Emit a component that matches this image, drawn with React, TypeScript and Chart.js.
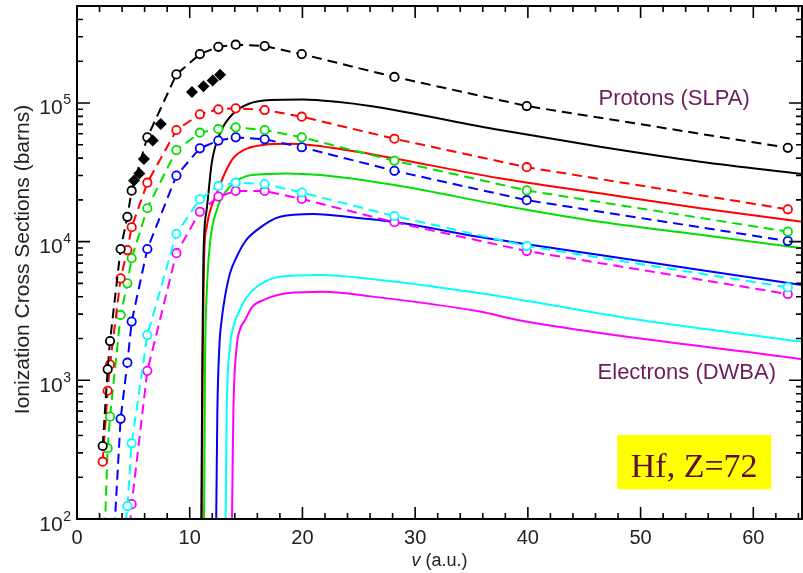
import React, { useEffect, useRef } from "react";
import { Chart, registerables } from "chart.js";

Chart.register(...registerables);

// ---- axes ----
const X_MIN = 0;
const X_MAX = 64.32;
const Y_MIN = 100;
const Y_MAX = 5e5;
const X_TICKS = [0, 10, 20, 30, 40, 50, 60];
const Y_EXPONENTS = [2, 3, 4, 5];

// ---- protons (SLPA), dashed with open circles ----
const V_PROTON = [2.28, 2.72, 2.93, 3.87, 4.47, 4.85, 6.24, 8.82, 10.9, 12.54, 14.08, 16.65, 19.94, 28.16, 39.9, 63.06];
const P_BLACK = [336, 1200, 1920, 8850, 15100, 23300, 56500, 160600, 225000, 254000, 263000, 257000, 225000, 154000, 95000, 47500];
const P_RED = [259, 841, 1300, 5430, 8690, 12700, 26600, 63800, 82800, 89900, 91400, 88900, 79600, 55200, 34400, 17100];
const P_GREEN = [30, 324, 547, 2960, 5000, 7590, 17400, 45700, 61000, 64900, 66700, 63800, 56500, 38300, 23400, 11800];
const P_BLUE = [null, null, 23, 528, 1340, 2650, 8850, 29900, 47100, 53500, 56500, 54700, 47900, 32400, 19900, 10100];
const P_CYAN = [null, null, null, 43, 124, 351, 2120, 11400, 20200, 25200, 26600, 26000, 22600, 15300, 9290, 4680];
const P_MAGENTA = [null, null, null, null, 53, 128, 1170, 8250, 16400, 21100, 23200, 23200, 20300, 13800, 8550, 4190];

// ---- experimental (filled diamonds) ----
const EXP_V = [5.06, 5.53, 5.94, 6.72, 7.43, 10.2, 11.22, 12.04, 12.69];
const EXP_S = [27600, 31000, 39400, 53500, 70500, 120000, 132000, 145000, 160000];

// ---- electrons (DWBA), solid ----
const E_BLACK_V = [10.98, 11.03, 11.12, 11.21, 11.5, 11.6, 11.95, 12.69, 13.87, 15.35, 17.13, 20.08, 23.04, 26.0, 37.53, 46.4, 55.28, 64.32];
const E_BLACK_S = [60, 100, 1400, 7360, 16900, 19950, 36700, 60400, 84100, 99300, 105000, 106000, 102000, 95000, 63800, 48300, 37700, 30700];
const E_RED_V = [11.0, 11.07, 11.15, 11.27, 11.51, 12.4, 13.73, 14.76, 16.53, 18.61, 20.67, 26.0, 37.5, 46.4, 55.3, 64.32];
const E_RED_S = [60, 100, 1400, 7360, 12800, 22300, 38700, 45700, 49800, 50700, 49800, 42900, 28600, 22300, 17400, 13900];
const E_GREEN_V = [11.22, 11.27, 11.36, 11.51, 11.8, 12.4, 13.58, 15.5, 18.61, 21.56, 28.66, 37.5, 46.4, 55.3, 64.32];
const E_GREEN_S = [60, 100, 1400, 4240, 9730, 16900, 24900, 30200, 31000, 30200, 25200, 18400, 13900, 11200, 8950];
const E_BLUE_V = [12.3, 12.35, 12.45, 12.63, 12.83, 13.13, 13.58, 14.17, 14.95, 15.95, 18.01, 20.97, 23.93, 28.07, 35.76, 46.4, 55.3, 64.32];
const E_BLUE_S = [60, 100, 578, 1750, 2720, 4010, 5940, 7780, 10100, 12100, 15100, 15800, 15100, 13900, 10800, 8000, 6240, 4860];
const E_CYAN_V = [13.13, 13.18, 13.28, 13.58, 13.84, 14.31, 15.0, 15.95, 18.01, 21.56, 25.7, 35.76, 49.96, 64.32];
const E_CYAN_S = [60, 100, 578, 1750, 2380, 3040, 3920, 4730, 5590, 5740, 5430, 4240, 2720, 1900];
const E_MAGENTA_V = [13.7, 13.75, 13.87, 14.17, 14.45, 14.91, 15.53, 16.53, 18.61, 21.86, 25.7, 35.76, 39.1, 64.32];
const E_MAGENTA_S = [60, 100, 578, 1750, 2310, 2720, 3370, 3790, 4240, 4350, 4060, 3130, 2720, 1420];

const COLORS = {
  black: "#000000",
  red: "#ff0000",
  green: "#00e000",
  blue: "#0000ff",
  cyan: "#00ffff",
  magenta: "#ff00ff",
};

const SANS = '"Liberation Sans", Arial, Helvetica, sans-serif';
const SERIF = '"Liberation Serif", "Times New Roman", serif';

function pairs(xs: number[], ys: (number | null)[]) {
  const out: { x: number; y: number }[] = [];
  xs.forEach((x, i) => {
    const y = ys[i];
    if (y !== null && y !== undefined) out.push({ x, y });
  });
  return out;
}

function protonSet(vals: (number | null)[], color: string, order: number) {
  return {
    data: pairs(V_PROTON, vals),
    borderColor: color,
    borderWidth: 2,
    borderDash: [10, 6],
    pointRadius: 4.2,
    pointBorderWidth: 1.8,
    pointBorderColor: color,
    pointBackgroundColor: "#ffffff",
    pointStyle: "circle",
    tension: 0,
    fill: false,
    order,
  };
}

function electronSet(xs: number[], ys: number[], color: string, order: number) {
  return {
    data: pairs(xs, ys),
    borderColor: color,
    borderWidth: 2,
    pointRadius: 0,
    cubicInterpolationMode: "monotone",
    fill: false,
    order,
  };
}

const decorPlugin = {
  id: "decor",
  afterDatasetsDraw(chart: any) {
    const { ctx, chartArea: a, scales } = chart;
    const xs = scales.x;
    const ys = scales.y;
    ctx.save();

    // annotation box
    const bx0 = xs.getPixelForValue(47.92);
    const bx1 = xs.getPixelForValue(61.59);
    const by0 = ys.getPixelForValue(404);
    const by1 = ys.getPixelForValue(164);
    ctx.fillStyle = "#ffff00";
    ctx.fillRect(bx0, by0, bx1 - bx0, by1 - by0);
    ctx.fillStyle = "#5c0f33";
    ctx.font = `34px ${SERIF}`;
    ctx.textAlign = "center";
    ctx.textBaseline = "alphabetic";
    ctx.fillText("Hf, Z=72", (bx0 + bx1) / 2, by0 + 42);

    ctx.fillStyle = "#6b1d5c";
    ctx.font = `22px ${SANS}`;
    ctx.textBaseline = "middle";
    ctx.fillText("Protons (SLPA)", xs.getPixelForValue(52.98), ys.getPixelForValue(1.07e5));
    ctx.fillText("Electrons (DWBA)", xs.getPixelForValue(54.1), ys.getPixelForValue(1130));

    // frame
    ctx.strokeStyle = "#000";
    ctx.lineWidth = 2;
    ctx.strokeRect(a.left, a.top, a.right - a.left, a.bottom - a.top);

    // ticks
    ctx.lineWidth = 1.6;
    ctx.beginPath();
    for (let v = 0; v <= X_MAX; v += 2) {
      const px = xs.getPixelForValue(v);
      const len = v % 10 === 0 ? 12 : 6;
      ctx.moveTo(px, a.bottom);
      ctx.lineTo(px, a.bottom - len);
      ctx.moveTo(px, a.top);
      ctx.lineTo(px, a.top + len);
    }
    for (let k = 2; k <= 5; k++) {
      for (let m = 1; m <= 9; m++) {
        const v = m * Math.pow(10, k);
        if (v < Y_MIN || v > Y_MAX) continue;
        const py = ys.getPixelForValue(v);
        const len = m === 1 ? 13 : 6;
        ctx.moveTo(a.left, py);
        ctx.lineTo(a.left + len, py);
        ctx.moveTo(a.right, py);
        ctx.lineTo(a.right - len, py);
      }
    }
    ctx.stroke();

    // tick labels
    ctx.fillStyle = "#222";
    ctx.font = `20px ${SANS}`;
    ctx.textAlign = "center";
    ctx.textBaseline = "alphabetic";
    X_TICKS.forEach((t) => {
      ctx.fillText(String(t), xs.getPixelForValue(t), a.bottom + 25);
    });
    Y_EXPONENTS.forEach((e) => {
      const py = ys.getPixelForValue(Math.pow(10, e));
      ctx.font = `14px ${SANS}`;
      ctx.textAlign = "right";
      const supW = ctx.measureText(String(e)).width;
      ctx.fillText(String(e), a.left - 6, py + 1.5);
      ctx.font = `21px ${SANS}`;
      ctx.fillText("10", a.left - 6 - supW - 0.5, py + 11.5);
    });

    // axis titles
    ctx.save();
    ctx.translate(28.5, 259.5);
    ctx.rotate(-Math.PI / 2);
    ctx.font = `21px ${SANS}`;
    ctx.textAlign = "center";
    ctx.fillStyle = "#222";
    ctx.fillText("Ionization Cross Sections (barns)", 0, 0);
    ctx.restore();

    const cx = (a.left + a.right) / 2;
    const by = 566;
    ctx.font = `italic 18px ${SANS}`;
    const w1 = ctx.measureText("v").width;
    ctx.font = `18px ${SANS}`;
    const w2 = ctx.measureText(" (a.u.)").width;
    const start = cx - (w1 + w2) / 2;
    ctx.textAlign = "left";
    ctx.font = `italic 18px ${SANS}`;
    ctx.fillText("v", start, by);
    ctx.font = `18px ${SANS}`;
    ctx.fillText(" (a.u.)", start + w1, by);

    ctx.restore();
  },
};

export default function App() {
  const ref = useRef<HTMLCanvasElement | null>(null);

  useEffect(() => {
    if (!ref.current) return;
    const datasets: any[] = [
      protonSet(P_BLACK, COLORS.black, 1),
      protonSet(P_RED, COLORS.red, 2),
      protonSet(P_GREEN, COLORS.green, 3),
      protonSet(P_BLUE, COLORS.blue, 4),
      protonSet(P_CYAN, COLORS.cyan, 5),
      protonSet(P_MAGENTA, COLORS.magenta, 6),
      {
        data: pairs(EXP_V, EXP_S),
        showLine: false,
        pointStyle: "rectRot",
        pointRadius: 6,
        pointBorderWidth: 0,
        pointBackgroundColor: "#000",
        pointBorderColor: "#000",
        order: 0,
      },
      electronSet(E_BLACK_V, E_BLACK_S, COLORS.black, 7),
      electronSet(E_RED_V, E_RED_S, COLORS.red, 8),
      electronSet(E_GREEN_V, E_GREEN_S, COLORS.green, 9),
      electronSet(E_BLUE_V, E_BLUE_S, COLORS.blue, 10),
      electronSet(E_CYAN_V, E_CYAN_S, COLORS.cyan, 11),
      electronSet(E_MAGENTA_V, E_MAGENTA_S, COLORS.magenta, 12),
    ];

    const chart = new Chart(ref.current, {
      type: "line",
      data: { datasets },
      options: {
        animation: false,
        responsive: false,
        devicePixelRatio: 1,
        parsing: true,
        layout: { padding: { top: 6, right: 1, left: 0, bottom: 0 }, autoPadding: false },
        plugins: { legend: { display: false }, tooltip: { enabled: false } },
        events: [],
        scales: {
          x: {
            type: "linear",
            min: X_MIN,
            max: X_MAX,
            ticks: { display: false },
            grid: { display: false },
            border: { display: false },
            afterFit: (s: any) => {
              s.height = 54;
            },
          },
          y: {
            type: "logarithmic",
            min: Y_MIN,
            max: Y_MAX,
            ticks: { display: false },
            grid: { display: false },
            border: { display: false },
            afterFit: (s: any) => {
              s.width = 77;
            },
          },
        },
      } as any,
      plugins: [decorPlugin],
    });
    return () => chart.destroy();
  }, []);

  return (
    <div style={{ position: "absolute", left: 0, top: 0, width: 803, height: 573, background: "#fff" }}>
      <canvas ref={ref} width={803} height={573} style={{ display: "block" }} />
    </div>
  );
}
